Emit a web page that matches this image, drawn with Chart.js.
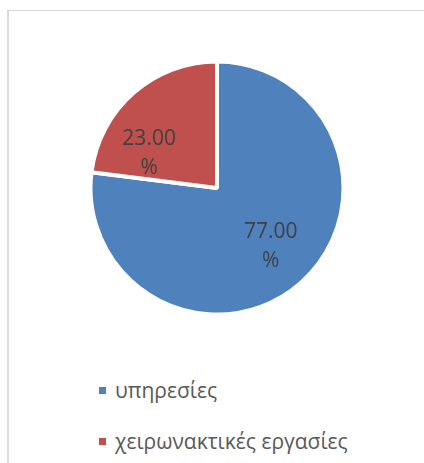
<!DOCTYPE html>
<html>
<head>
<meta charset="utf-8">
<script src="https://cdn.jsdelivr.net/npm/chart.js@4/dist/chart.umd.min.js"></script>
<style>
  html, body { margin:0; padding:0; background:#fff; overflow:hidden; }
  body { width:424px; height:463px; position:relative; font-family:"Open Sans", sans-serif; }
  #frame { position:absolute; left:7px; top:10px; width:440px; height:480px;
           border-left:2px solid #d9d9d9; border-top:1px solid #d9d9d9; }
  #pie-box { position:absolute; left:87px; top:58px; width:260px; height:260px; }
  #legend { position:absolute; left:99px; top:373px; }
  .item { position:relative; height:51px; color:#595959; font-size:21px; white-space:nowrap; }
  .item span.box { position:absolute; left:0; top:14px; width:7px; height:7px; }
  .item span.txt { position:absolute; left:16px; top:-1px; line-height:36px; }
</style>
</head>
<body>
<div id="frame"></div>
<div id="pie-box"><canvas id="pie"></canvas></div>
<div id="legend"></div>
<script>
// data
const labels = ["υπηρεσίες", "χειρωνακτικές εργασίες"];
const shares = [77.00, 23.00];
const colors = ["#4F81BD", "#C0504D"];

// draws "77.00" / "%" inside each slice
const sliceLabels = {
  id: "sliceLabels",
  afterDatasetsDraw(chart, args, opts) {
    const ctx = chart.ctx;
    const meta = chart.getDatasetMeta(0);
    ctx.save();
    ctx.fillStyle = opts.color;
    ctx.font = opts.font;
    ctx.textAlign = "center";
    ctx.textBaseline = "middle";
    meta.data.forEach((arc, i) => {
      const p = arc.getProps(["x","y","startAngle","endAngle","outerRadius"], true);
      const adj = opts.place[i] || {shift:0, r:0.64};
      const a = (p.startAngle + p.endAngle) / 2 + adj.shift * Math.PI / 180;
      const d = p.outerRadius * adj.r;
      const cx = p.x + Math.cos(a) * d;
      const cy = p.y + Math.sin(a) * d;
      const v = chart.data.datasets[0].data[i];
      ctx.fillText(v.toFixed(2), cx, cy - opts.lineGap / 2);
      ctx.fillText("%", cx, cy + opts.lineGap / 2);
    });
    ctx.restore();
  }
};

const chart = new Chart(document.getElementById("pie"), {
  type: "pie",
  data: {
    labels: labels,
    datasets: [{
      data: shares,
      backgroundColor: colors,
      borderColor: "#ffffff",
      borderWidth: 4
    }]
  },
  options: {
    responsive: true,
    maintainAspectRatio: false,
    animation: false,
    radius: 126.5,
    layout: { padding: 0 },
    plugins: {
      legend: { display: false },
      tooltip: { enabled: false },
      sliceLabels: {
        color: "#404040",
        font: "21px 'Open Sans'",
        lineGap: 29,
        place: [{shift:-1, r:0.63}, {shift:-22, r:0.60}]
      }
    }
  },
  plugins: [sliceLabels]
});

// legend
const legend = document.getElementById("legend");
labels.forEach((name, i) => {
  const row = document.createElement("div");
  row.className = "item";
  row.innerHTML = '<span class="box" style="background:' + colors[i] + '"></span><span class="txt">' + name + '</span>';
  legend.appendChild(row);
});
</script>
</body>
</html>
